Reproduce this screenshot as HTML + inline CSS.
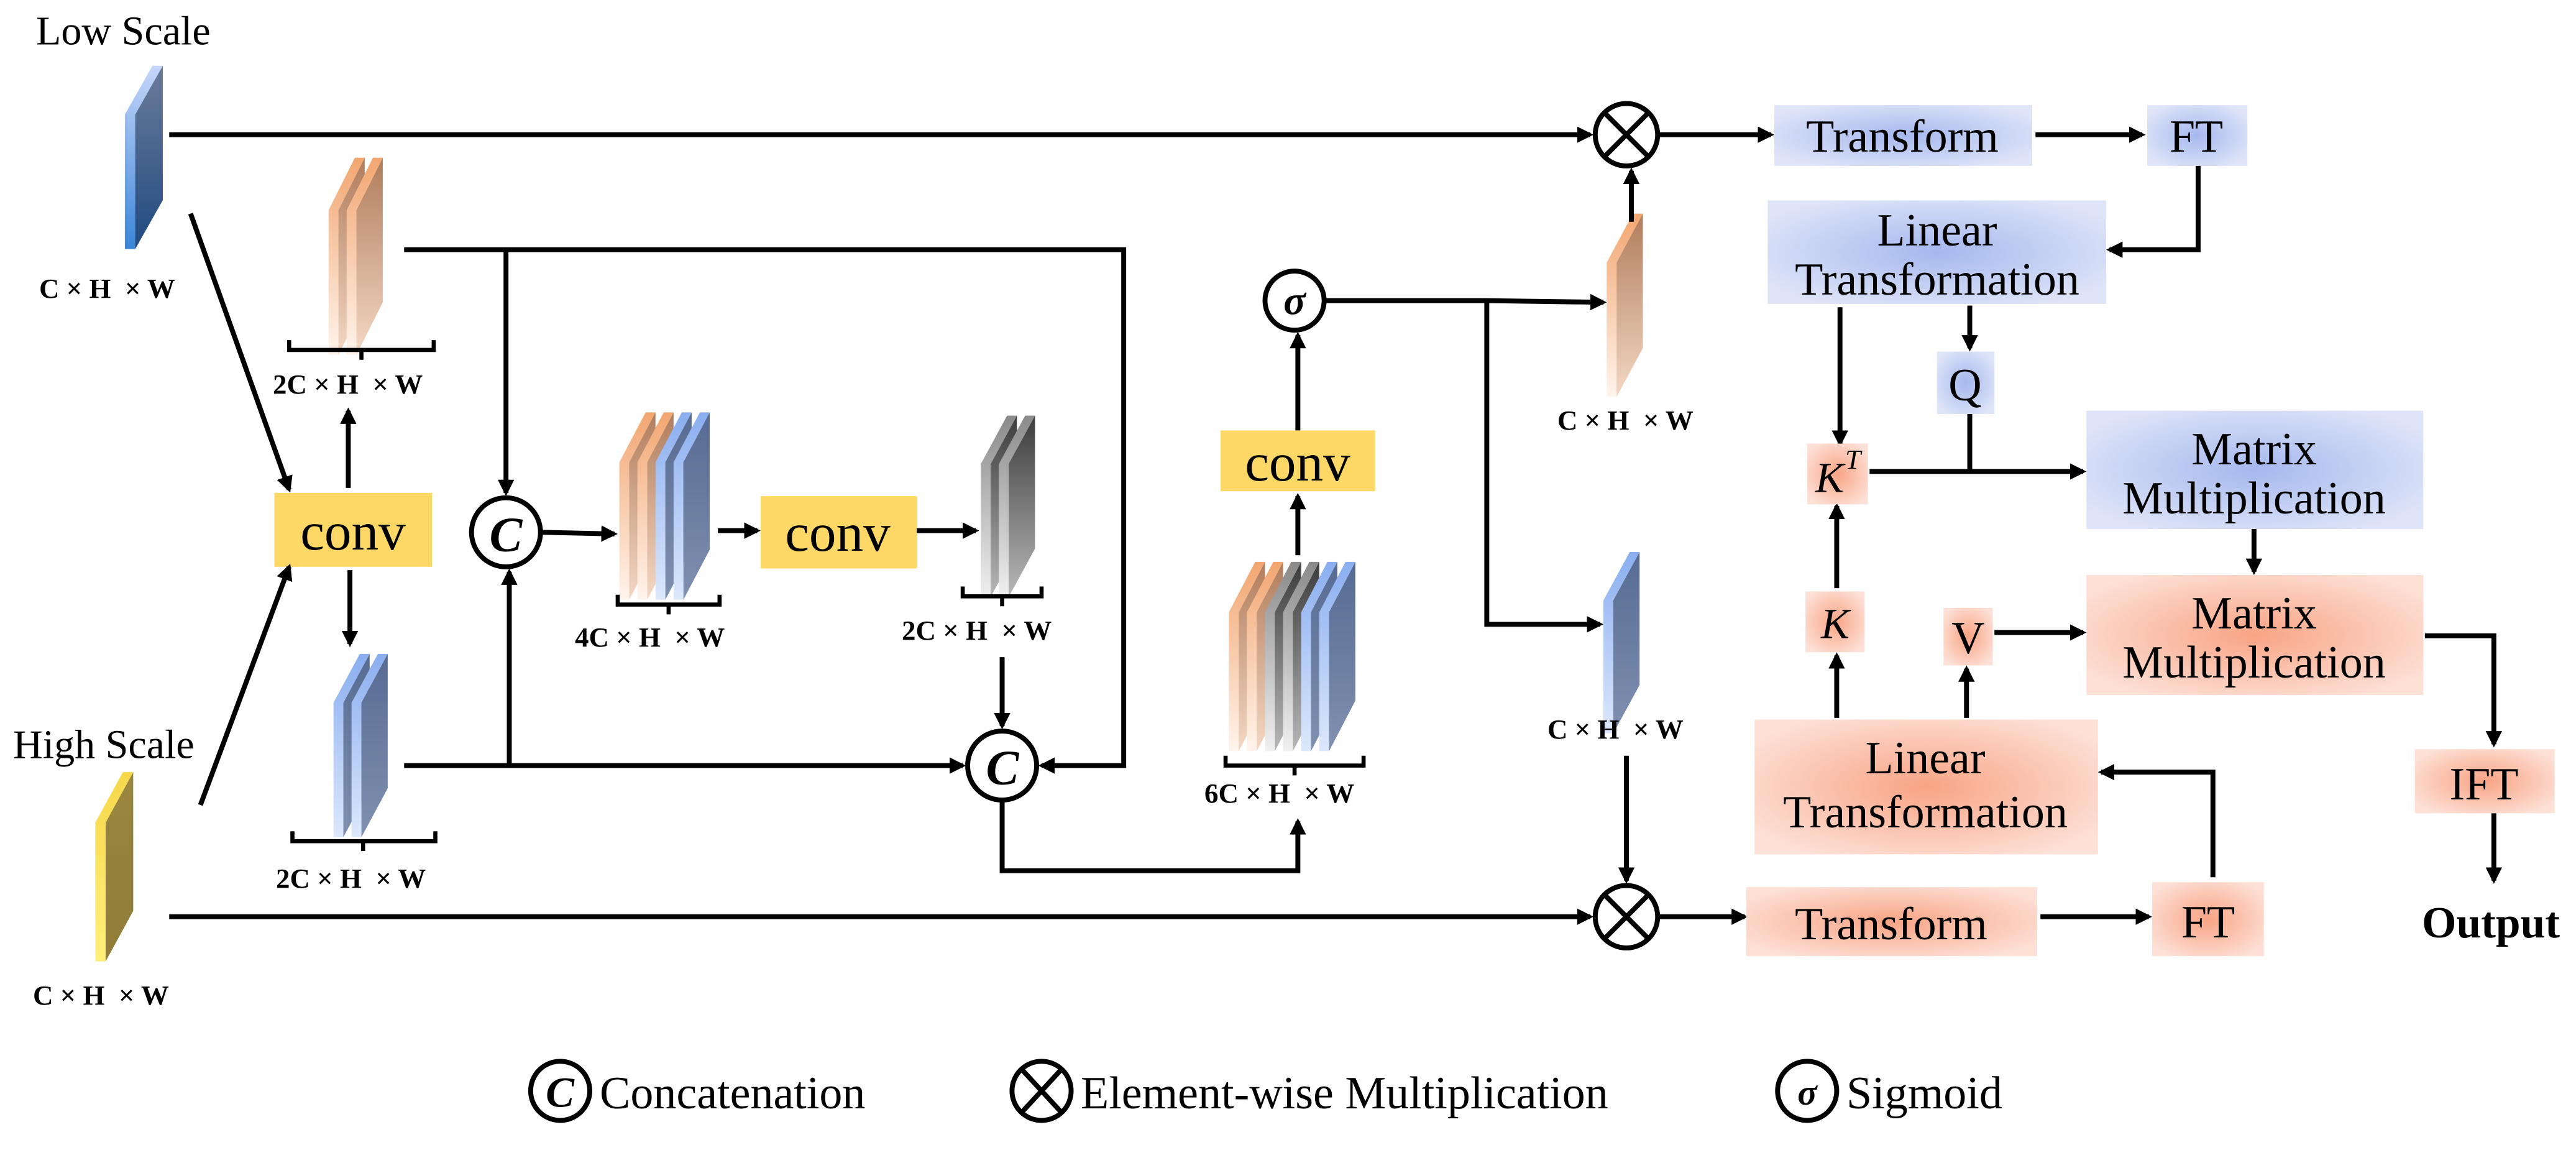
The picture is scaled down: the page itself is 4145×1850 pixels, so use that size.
<!DOCTYPE html>
<html><head><meta charset="utf-8"><style>
html,body{margin:0;padding:0;background:#fff;}
#w{position:relative;width:4145px;height:1850px;overflow:hidden;}
svg{display:block;position:absolute;left:0;top:0;}
.t{position:absolute;font-family:"Liberation Serif","DejaVu Serif",serif;line-height:1;white-space:pre;color:#000;
left:calc(var(--x) * 2.6435px);top:calc((var(--y) - var(--s) * 0.816) * 2.6435px);font-size:calc(var(--s) * 2.6435px / 1.6);
transform-origin:0 0;transform:scale(1.6);}
.c{transform:scale(1.6) translateX(-50%);}
.b{font-weight:bold;}
.i{font-style:italic;}
</style></head><body><div id="w">
<svg width="4145" height="1850" viewBox="0 0 1568 700" preserveAspectRatio="none" xmlns="http://www.w3.org/2000/svg">
<defs>
<marker id="ah" markerWidth="10" markerHeight="10" refX="8" refY="5" orient="auto" markerUnits="userSpaceOnUse">
<path d="M0,0 L10,5 L0,10 Z" fill="#000"/></marker>
<linearGradient id="oS" x1="0" y1="0" x2="0" y2="1"><stop offset="0" stop-color="#f2a670"/><stop offset="1" stop-color="#fff4ec"/></linearGradient>
<linearGradient id="oF" x1="0" y1="0" x2="0" y2="1"><stop offset="0" stop-color="#b07d5c"/><stop offset="1" stop-color="#f4d8c4"/></linearGradient>
<linearGradient id="bS" x1="0" y1="0" x2="0" y2="1"><stop offset="0" stop-color="#8aaef0"/><stop offset="1" stop-color="#dce8fb"/></linearGradient>
<linearGradient id="bF" x1="0" y1="0" x2="0" y2="1"><stop offset="0" stop-color="#566b92"/><stop offset="1" stop-color="#8090b0"/></linearGradient>
<linearGradient id="gS" x1="0" y1="0" x2="0" y2="1"><stop offset="0" stop-color="#8a8a8a"/><stop offset="1" stop-color="#f0f0f0"/></linearGradient>
<linearGradient id="gF" x1="0" y1="0" x2="0" y2="1"><stop offset="0" stop-color="#3c3c3c"/><stop offset="1" stop-color="#b8b8b8"/></linearGradient>
<linearGradient id="yS" x1="0" y1="0" x2="0" y2="1"><stop offset="0" stop-color="#f6d84a"/><stop offset="1" stop-color="#fff07a"/></linearGradient>
<linearGradient id="yF" x1="0" y1="0" x2="0" y2="1"><stop offset="0" stop-color="#9a8840"/><stop offset="1" stop-color="#8e7c38"/></linearGradient>
<linearGradient id="lS" x1="0" y1="0" x2="0" y2="1"><stop offset="0" stop-color="#c6d6fa"/><stop offset="1" stop-color="#3a86d8"/></linearGradient>
<linearGradient id="lF" x1="0" y1="0" x2="0" y2="1"><stop offset="0" stop-color="#6c7c9a"/><stop offset="1" stop-color="#1f4a80"/></linearGradient>
<radialGradient id="blu" cx="0.5" cy="0.5" r="0.6"><stop offset="0" stop-color="#a5b8ee"/><stop offset="1" stop-color="#dfe5f8"/></radialGradient>
<radialGradient id="red" cx="0.5" cy="0.5" r="0.6"><stop offset="0" stop-color="#f8a484"/><stop offset="1" stop-color="#fde0d6"/></radialGradient>
<g id="sO"><path d="M0,32 L16,0 L22,0 L6,32 L6,120 L0,120 Z" fill="url(#oS)"/><path d="M6,32 L22,0 L22,88 L6,120 Z" fill="url(#oF)"/></g>
<g id="sB"><path d="M0,32 L16,0 L22,0 L6,32 L6,120 L0,120 Z" fill="url(#bS)"/><path d="M6,32 L22,0 L22,88 L6,120 Z" fill="url(#bF)"/></g>
<g id="sG"><path d="M0,32 L16,0 L22,0 L6,32 L6,120 L0,120 Z" fill="url(#gS)"/><path d="M6,32 L22,0 L22,88 L6,120 Z" fill="url(#gF)"/></g>
<g id="sY"><path d="M0,32 L16,0 L22,0 L6,32 L6,120 L0,120 Z" fill="url(#yS)"/><path d="M6,32 L22,0 L22,88 L6,120 Z" fill="url(#yF)"/></g>
<g id="sL"><path d="M0,32 L16,0 L22,0 L6,32 L6,120 L0,120 Z" fill="url(#lS)"/><path d="M6,32 L22,0 L22,88 L6,120 Z" fill="url(#lF)"/></g>
</defs>

<use href="#sL" transform="translate(76,40) scale(1.05,0.93)"/>
<use href="#sY" transform="translate(58,470) scale(1.05,0.96)"/>

<use href="#sO" transform="translate(200,96)"/>
<use href="#sO" transform="translate(211,96)"/>
<path d="M176,207 V213 H264 V207 M220,213 V219" stroke="#000" stroke-width="2.5" fill="none"/>
<use href="#sB" transform="translate(203,398) scale(1,0.93)"/>
<use href="#sB" transform="translate(214,398) scale(1,0.93)"/>
<path d="M178,506 V512 H265 V506 M221,512 V518" stroke="#000" stroke-width="2.5" fill="none"/>
<use href="#sO" transform="translate(377,251) scale(1,0.95)"/>
<use href="#sO" transform="translate(388,251) scale(1,0.95)"/>
<use href="#sB" transform="translate(399,251) scale(1,0.95)"/>
<use href="#sB" transform="translate(410,251) scale(1,0.95)"/>
<path d="M376,362 V368 H438 V362 M407,368 V374" stroke="#000" stroke-width="2.5" fill="none"/>
<use href="#sG" transform="translate(597,253) scale(1,0.92)"/>
<use href="#sG" transform="translate(608,253) scale(1,0.92)"/>
<path d="M586,357 V363 H634 V357 M610,363 V369" stroke="#000" stroke-width="2.5" fill="none"/>
<use href="#sO" transform="translate(748,342) scale(1,0.96)"/>
<use href="#sO" transform="translate(759,342) scale(1,0.96)"/>
<use href="#sG" transform="translate(770,342) scale(1,0.96)"/>
<use href="#sG" transform="translate(781,342) scale(1,0.96)"/>
<use href="#sB" transform="translate(792,342) scale(1,0.96)"/>
<use href="#sB" transform="translate(803,342) scale(1,0.96)"/>
<path d="M746,460 V466 H830 V460 M788,466 V472" stroke="#000" stroke-width="2.5" fill="none"/>
<use href="#sO" transform="translate(978,130) scale(1,0.93)"/>
<use href="#sB" transform="translate(976,336) scale(1,0.92)"/>

<rect x="167" y="300" width="96" height="45" fill="#fdd866"/>
<rect x="463" y="302" width="95" height="44" fill="#fdd866"/>
<rect x="743" y="262" width="94" height="37" fill="#fdd866"/>

<g stroke="#000" stroke-width="3" fill="#fff">
<circle cx="308" cy="324" r="21"/>
<circle cx="610" cy="466" r="21"/>
<circle cx="788" cy="183" r="18"/>
<circle cx="990" cy="82" r="19"/>
<circle cx="990" cy="558" r="19"/>
<circle cx="341" cy="664" r="18"/>
<circle cx="634" cy="664" r="18"/>
<circle cx="1100" cy="664" r="18"/>
</g>
<path d="M977,69 L1003,95 M1003,69 L977,95 M977,545 L1003,571 M1003,545 L977,571 M622,651 L646,677 M646,651 L622,677" stroke="#000" stroke-width="3"/>

<g stroke="#000" stroke-width="3" fill="none">
<path d="M103,82 H968" marker-end="url(#ah)"/>
<path d="M103,558 H968" marker-end="url(#ah)"/>
<path d="M116,130 L176,298" marker-end="url(#ah)"/>
<path d="M122,490 L176,345" marker-end="url(#ah)"/>
<path d="M212,297 V250" marker-end="url(#ah)"/>
<path d="M213,347 V392" marker-end="url(#ah)"/>
<path d="M246,152 H684 V466 H634" marker-end="url(#ah)"/>
<path d="M308,152 V300" marker-end="url(#ah)"/>
<path d="M246,466 H586" marker-end="url(#ah)"/>
<path d="M310,466 V348" marker-end="url(#ah)"/>
<path d="M330,324 L374,325" marker-end="url(#ah)"/>
<path d="M437,323 H461" marker-end="url(#ah)"/>
<path d="M558,323 H594" marker-end="url(#ah)"/>
<path d="M610,400 V442" marker-end="url(#ah)"/>
<path d="M610,488 V530 H790 V500" marker-end="url(#ah)"/>
<path d="M790,338 V302" marker-end="url(#ah)"/>
<path d="M790,262 V204" marker-end="url(#ah)"/>
<path d="M807,183 H905 L976,184" marker-end="url(#ah)"/>
<path d="M905,183 V380 H974" marker-end="url(#ah)"/>
<path d="M993,135 V104" marker-end="url(#ah)"/>
<path d="M990,460 V536" marker-end="url(#ah)"/>
<path d="M1009,82 H1078" marker-end="url(#ah)"/>
<path d="M1009,558 H1062" marker-end="url(#ah)"/>
<path d="M1239,82 H1304" marker-end="url(#ah)"/>
<path d="M1338,100 V152 H1284" marker-end="url(#ah)"/>
<path d="M1120,187 V270" marker-end="url(#ah)"/>
<path d="M1199,186 V212" marker-end="url(#ah)"/>
<path d="M1199,252 V287"/>
<path d="M1138,287 H1268" marker-end="url(#ah)"/>
<path d="M1372,322 V348" marker-end="url(#ah)"/>
<path d="M1476,387 H1518 V453" marker-end="url(#ah)"/>
<path d="M1518,495 V536" marker-end="url(#ah)"/>
<path d="M1118,358 V308" marker-end="url(#ah)"/>
<path d="M1118,437 V399" marker-end="url(#ah)"/>
<path d="M1197,437 V407" marker-end="url(#ah)"/>
<path d="M1214,385 H1268" marker-end="url(#ah)"/>
<path d="M1242,558 H1308" marker-end="url(#ah)"/>
<path d="M1347,534 V470 H1279" marker-end="url(#ah)"/>
</g>

<rect x="1080" y="64" width="157" height="37" fill="url(#blu)"/>
<rect x="1307" y="64" width="61" height="37" fill="url(#blu)"/>
<rect x="1076" y="122" width="206" height="63" fill="url(#blu)"/>
<rect x="1179" y="214" width="35" height="38" fill="url(#blu)"/>
<rect x="1100" y="270" width="37" height="37" fill="url(#red)"/>
<rect x="1270" y="250" width="205" height="72" fill="url(#blu)"/>
<rect x="1270" y="350" width="205" height="73" fill="url(#red)"/>
<rect x="1099" y="360" width="36" height="37" fill="url(#red)"/>
<rect x="1183" y="370" width="30" height="35" fill="url(#red)"/>
<rect x="1068" y="438" width="209" height="82" fill="url(#red)"/>
<rect x="1063" y="540" width="177" height="42" fill="url(#red)"/>
<rect x="1310" y="537" width="68" height="45" fill="url(#red)"/>
<rect x="1470" y="456" width="85" height="39" fill="url(#red)"/>
</svg>

<div class="t" style="--x:22;--y:27;--s:25">Low Scale</div>
<div class="t b" style="--x:24;--y:182;--s:17">C × H  × W</div>
<div class="t" style="--x:8;--y:461;--s:25">High Scale</div>
<div class="t b" style="--x:20;--y:612;--s:17">C × H  × W</div>
<div class="t b" style="--x:166;--y:240;--s:17">2C × H  × W</div>
<div class="t b" style="--x:168;--y:541;--s:17">2C × H  × W</div>
<div class="t b" style="--x:350;--y:394;--s:17">4C × H  × W</div>
<div class="t b" style="--x:549;--y:390;--s:17">2C × H  × W</div>
<div class="t b" style="--x:733;--y:489;--s:17">6C × H  × W</div>
<div class="t b" style="--x:948;--y:262;--s:17">C × H  × W</div>
<div class="t b" style="--x:942;--y:450;--s:17">C × H  × W</div>

<div class="t c" style="--x:215;--y:334;--s:33">conv</div>
<div class="t c" style="--x:510;--y:335;--s:33">conv</div>
<div class="t c" style="--x:790;--y:292;--s:33">conv</div>

<div class="t c b i" style="--x:308;--y:335;--s:30">C</div>
<div class="t c b i" style="--x:610;--y:477;--s:30">C</div>
<div class="t c b i" style="--x:788;--y:191;--s:25">σ</div>

<div class="t c" style="--x:1158;--y:93;--s:28">Transform</div>
<div class="t c" style="--x:1337;--y:93;--s:28">FT</div>
<div class="t c" style="--x:1179;--y:150;--s:28">Linear</div>
<div class="t c" style="--x:1179;--y:180;--s:28">Transformation</div>
<div class="t c" style="--x:1196;--y:244;--s:28">Q</div>
<div class="t i" style="--x:1105;--y:300;--s:26">K</div>
<div class="t i" style="--x:1123;--y:286;--s:17">T</div>
<div class="t c" style="--x:1372;--y:283;--s:28">Matrix</div>
<div class="t c" style="--x:1372;--y:313;--s:28">Multiplication</div>
<div class="t c" style="--x:1372;--y:383;--s:28">Matrix</div>
<div class="t c" style="--x:1372;--y:413;--s:28">Multiplication</div>
<div class="t c i" style="--x:1117;--y:389;--s:26">K</div>
<div class="t c" style="--x:1198;--y:398;--s:28">V</div>
<div class="t c" style="--x:1172;--y:471;--s:28">Linear</div>
<div class="t c" style="--x:1172;--y:504;--s:28">Transformation</div>
<div class="t c" style="--x:1151;--y:572;--s:28">Transform</div>
<div class="t c" style="--x:1344;--y:571;--s:28">FT</div>
<div class="t c" style="--x:1512;--y:487;--s:28">IFT</div>
<div class="t c b" style="--x:1516;--y:570;--s:27">Output</div>

<div class="t c b i" style="--x:341;--y:674;--s:26">C</div>
<div class="t c b i" style="--x:1100;--y:672;--s:22">σ</div>
<div class="t" style="--x:365;--y:675;--s:28">Concatenation</div>
<div class="t" style="--x:658;--y:675;--s:28">Element-wise Multiplication</div>
<div class="t" style="--x:1124;--y:675;--s:28">Sigmoid</div>
</div></body></html>
